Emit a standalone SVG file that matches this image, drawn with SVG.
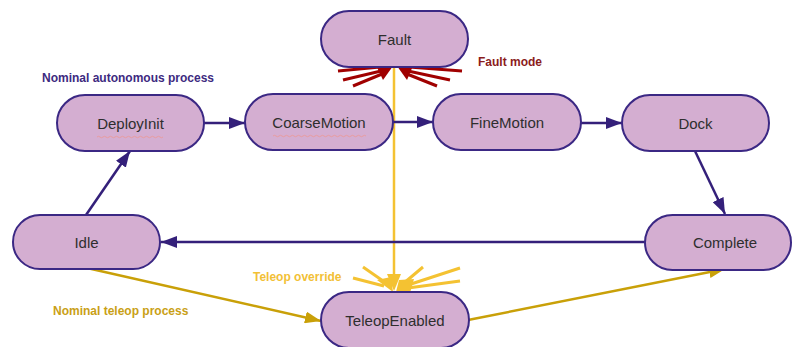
<svg xmlns="http://www.w3.org/2000/svg" width="795" height="347" viewBox="0 0 795 347">
  <style>
    .node rect { fill: #d4aed1; stroke: #3b2884; stroke-width: 2; }
    .node text { font-family: "Liberation Sans", Arial, sans-serif; font-size: 15px; fill: #2e2e2e; text-anchor: middle; }
    .lbl { font-family: "Liberation Sans", Arial, sans-serif; font-size: 12px; font-weight: bold; }
    .purple { stroke: #34207a; stroke-width: 2.5; fill: none; }
    .gold { stroke: #c9a008; stroke-width: 2.5; fill: none; }
    .yellow { stroke: #f4c232; stroke-width: 2.5; fill: none; }
    .red { stroke: #a00000; stroke-width: 3; fill: none; stroke-linecap: butt; }
    .ray { stroke: #f4c232; stroke-width: 3; fill: none; }
    .squiggle { stroke: #eb9a9a; stroke-width: 0.9; fill: none; }
  </style>
  <defs>
    <marker id="arrP" viewBox="0 0 16 12" refX="16" refY="6" markerWidth="16" markerHeight="12" markerUnits="userSpaceOnUse" orient="auto">
      <path d="M0,0 L16,6 L0,12 z" fill="#34207a"/>
    </marker>
    <marker id="arrG" viewBox="0 0 16 12" refX="16" refY="6" markerWidth="16" markerHeight="12" markerUnits="userSpaceOnUse" orient="auto">
      <path d="M0,0 L16,6 L0,12 z" fill="#c9a008"/>
    </marker>
  </defs>

  <!-- connectors -->
  <g id="connectors">
    <line class="yellow" x1="394" y1="67" x2="394" y2="276"/>
    <line class="purple" x1="204" y1="123" x2="245" y2="123" marker-end="url(#arrP)"/>
    <line class="purple" x1="393" y1="122" x2="433" y2="122" marker-end="url(#arrP)"/>
    <line class="purple" x1="581" y1="123" x2="622" y2="123" marker-end="url(#arrP)"/>
    <line class="purple" x1="695" y1="151" x2="725" y2="214" marker-end="url(#arrP)"/>
    <line class="purple" x1="645" y1="242" x2="161" y2="242" marker-end="url(#arrP)"/>
    <line class="purple" x1="86" y1="215" x2="130" y2="151" marker-end="url(#arrP)"/>
    <line class="gold" x1="87" y1="268" x2="321" y2="321" marker-end="url(#arrG)"/>
    <line class="gold" x1="468" y1="320" x2="725" y2="269" marker-end="url(#arrG)"/>

    <!-- fault burst -->
    <g id="fault-burst">
      <line class="red" x1="338" y1="71" x2="380" y2="67"/>
      <line class="red" x1="343" y1="80" x2="381" y2="71"/>
      <line class="red" x1="353" y1="86" x2="382" y2="74"/>
      <line class="red" x1="462" y1="71" x2="409" y2="67"/>
      <line class="red" x1="450" y1="80" x2="408" y2="71"/>
      <line class="red" x1="437" y1="86" x2="407" y2="74"/>
      <path d="M374,61 L393,66 L383,80 z" fill="#a00000"/>
      <path d="M415,61 L397,66 L407,80 z" fill="#a00000"/>
    </g>

    <!-- teleop burst -->
    <g id="teleop-burst">
      <path d="M387,274 L401,274 L394,291 z" fill="#f4c232"/>
      <line class="ray" x1="353" y1="278" x2="384" y2="286"/>
      <line class="ray" x1="363" y1="267" x2="386" y2="283"/>
      <line class="ray" x1="423" y1="267" x2="404" y2="283"/>
      <line class="ray" x1="460" y1="268" x2="408" y2="285"/>
      <line class="ray" x1="460" y1="281" x2="408" y2="288"/>
      <path d="M377,280 L391,277 L393,292 z" fill="#f4c232"/>
      <path d="M399,280 L414,279 L410,293 L396,292 z" fill="#f4c232"/>
    </g>
  </g>

  <!-- states -->
  <g id="fault" class="node">
    <rect x="321" y="11" width="147" height="56" rx="28" ry="28"/>
    <text x="394.5" y="44.5">Fault</text>
  </g>
  <g id="deployinit" class="node">
    <rect x="57" y="95" width="147" height="56" rx="28" ry="28"/>
    <text x="130.5" y="128.5">DeployInit</text>
    <path class="squiggle" d="M97,137 q1.5,-1.5 3,0 t3,0 t3,0 t3,0 t3,0 t3,0 t3,0 t3,0 t3,0 t3,0 t3,0 t3,0 t3,0 t3,0 t3,0 t3,0 t3,0 t3,0 t3,0 t3,0 t3,0 t3,0"/>
  </g>
  <g id="coarsemotion" class="node">
    <rect x="245" y="94" width="148" height="56" rx="28" ry="28"/>
    <text x="319" y="127.5">CoarseMotion</text>
    <path class="squiggle" d="M273,136 q1.5,-1.5 3,0 t3,0 t3,0 t3,0 t3,0 t3,0 t3,0 t3,0 t3,0 t3,0 t3,0 t3,0 t3,0 t3,0 t3,0 t3,0 t3,0 t3,0 t3,0 t3,0 t3,0 t3,0 t3,0 t3,0 t3,0 t3,0 t3,0 t3,0 t3,0 t3,0 t3,0"/>
  </g>
  <g id="finemotion" class="node">
    <rect x="433" y="94" width="148" height="56" rx="28" ry="28"/>
    <text x="507" y="127.5">FineMotion</text>
  </g>
  <g id="dock" class="node">
    <rect x="622" y="95" width="147" height="56" rx="28" ry="28"/>
    <text x="695.5" y="128.5">Dock</text>
  </g>
  <g id="complete" class="node">
    <rect x="645" y="215" width="146" height="55" rx="27.5" ry="27.5"/>
    <text x="725" y="248">Complete</text>
  </g>
  <g id="idle" class="node">
    <rect x="13" y="215" width="147" height="54" rx="27" ry="27"/>
    <text x="86.5" y="247.5">Idle</text>
  </g>
  <g id="teleopenabled" class="node">
    <rect x="321" y="292" width="148" height="56" rx="28" ry="28"/>
    <text x="395" y="326">TeleopEnabled</text>
  </g>

  <!-- annotations -->
  <g id="labels">
    <text class="lbl" x="42" y="82" fill="#3d2a80">Nominal autonomous process</text>
    <text class="lbl" x="478" y="66" fill="#8b1c1c">Fault mode</text>
    <text class="lbl" x="253" y="281" fill="#f2c036">Teleop override</text>
    <text class="lbl" x="53" y="315" fill="#c9a016">Nominal teleop process</text>
  </g>
</svg>
